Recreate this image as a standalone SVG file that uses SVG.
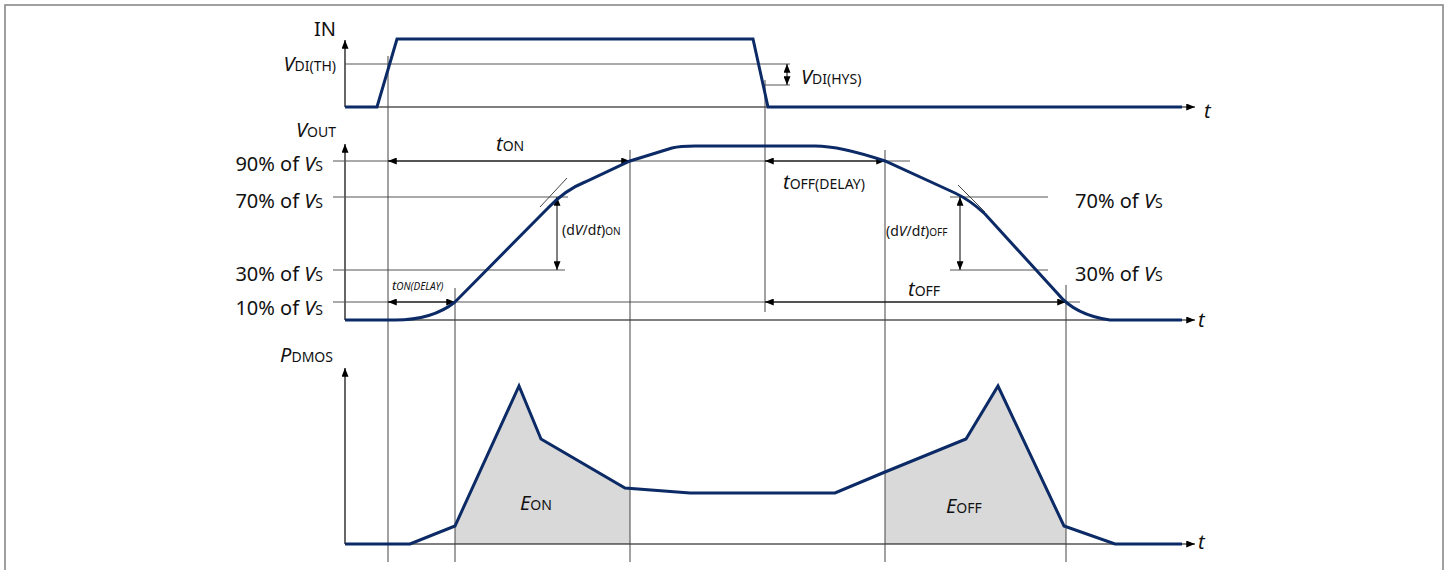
<svg xmlns="http://www.w3.org/2000/svg" width="1448" height="570" viewBox="0 0 1448 570">
<style>
text{font-family:"Noto Sans","Liberation Sans",sans-serif;fill:#111;}
.lbl{font-size:20px;}
.sub{font-size:14px;}
.sm{font-size:14px;}
.smsub{font-size:10px;}
.tiny{font-size:13px;}
.it{font-style:italic;}
.axis{stroke:#000;stroke-width:1.2;fill:none;}
.ref{stroke:#555;stroke-width:1;fill:none;}
.vl{stroke:#444;stroke-width:1;fill:none;}
.wave{stroke:#0b2a66;stroke-width:3;fill:none;stroke-linejoin:miter;}
.fill{fill:#d9d9d9;stroke:none;}
.dim{stroke:#000;stroke-width:1;fill:none;marker-start:url(#ah);marker-end:url(#ah);}
.arr{marker-end:url(#ah);}
</style>
<defs>
<marker id="ah" viewBox="0 0 10 8" refX="10" refY="4" markerWidth="9" markerHeight="7" markerUnits="userSpaceOnUse" orient="auto-start-reverse"><path d="M0,0 L10,4 L0,8 z" fill="#000"/></marker>
</defs>
<rect x="5" y="5" width="1438" height="580" fill="#fff" stroke="#808080" stroke-width="1.5"/>

<g id="fills">
<polygon class="fill" points="455,544 455,526 519,386 541,439 625,488 630,488.5 630,544"/>
<polygon class="fill" points="885,544 885,472 966,439 998,386 1064,526 1066,527 1066,544"/>
</g>

<g id="connectors">
<path class="axis arr" d="M345,107 V40"/>
<path class="axis arr" d="M345,107 H1195"/>
<path class="axis arr" d="M345,320 V144"/>
<path class="axis arr" d="M345,320 H1195"/>
<path class="axis arr" d="M345,544 V368"/>
<path class="axis arr" d="M345,544 H1195"/>
<path class="ref" d="M345,64 H790"/>
<path class="ref" d="M762,85 H790"/>
<path class="ref" d="M333,161 H910"/>
<path class="ref" d="M333,197 H568"/>
<path class="ref" d="M333,270 H565"/>
<path class="ref" d="M333,302 H1080"/>
<path class="ref" d="M950,197 H1048"/>
<path class="ref" d="M950,270 H1048"/>
<path class="vl" d="M388,56 V562"/>
<path class="vl" d="M765,80 V312"/>
<path class="vl" d="M455,288 V562"/>
<path class="vl" d="M630,150 V562"/>
<path class="vl" d="M885,150 V562"/>
<path class="vl" d="M1066,285 V562"/>
<path class="vl" d="M540,207 L567,178"/>
<path class="vl" d="M958,185 L985,212"/>
<path class="dim" d="M787,64 V85"/>
<path class="dim" d="M388,161 H630"/>
<path class="dim" d="M765,161 H885"/>
<path class="dim" d="M557,197 V270"/>
<path class="dim" d="M960,197 V270"/>
<path class="dim" d="M388,302 H455"/>
<path class="dim" d="M765,302 H1066"/>
</g>

<g id="in-wave">
<path class="wave" d="M345,107 L377,107 L397,39 L753,39 L768,107 L1182,107"/>
</g>
<g id="vout-wave">
<path class="wave" d="M345,320 L395,320 C420,320 440,314 455,302 L548,208 Q565,190 585,182 L630,161 L672,148 Q680,146 695,146 L815,146 Q840,146 885,161 L955,193 Q970,200 985,214 L1058,294 Q1075,315 1110,320 L1182,320"/>
</g>
<g id="pdmos-wave">
<path class="wave" d="M345,544 L410,544 L455,526 L519,386 L541,439 L625,488 L690,493 L835,493 L885,472 L966,439 L998,386 L1064,526 L1115,544 L1182,544"/>
</g>

<g id="labels">
<text class="lbl" x="336" y="36" text-anchor="end">IN</text>
<text class="lbl" x="336" y="71" text-anchor="end"><tspan class="it">V</tspan><tspan class="sub">DI(TH)</tspan></text>
<text class="lbl" x="801" y="84"><tspan class="it">V</tspan><tspan class="sub">DI(HYS)</tspan></text>
<text class="lbl it" x="1204" y="118">t</text>
<text class="lbl" x="336" y="137" text-anchor="end"><tspan class="it">V</tspan><tspan class="sub">OUT</tspan></text>
<text class="lbl" x="323" y="171" text-anchor="end">90% of <tspan class="it">V</tspan><tspan class="sub">S</tspan></text>
<text class="lbl" x="323" y="208" text-anchor="end">70% of <tspan class="it">V</tspan><tspan class="sub">S</tspan></text>
<text class="lbl" x="323" y="281" text-anchor="end">30% of <tspan class="it">V</tspan><tspan class="sub">S</tspan></text>
<text class="lbl" x="323" y="315" text-anchor="end">10% of <tspan class="it">V</tspan><tspan class="sub">S</tspan></text>
<text class="lbl" x="1075" y="208">70% of <tspan class="it">V</tspan><tspan class="sub">S</tspan></text>
<text class="lbl" x="1075" y="281">30% of <tspan class="it">V</tspan><tspan class="sub">S</tspan></text>
<text class="lbl it" x="1198" y="327">t</text>
<text class="lbl" x="496" y="151"><tspan class="it">t</tspan><tspan class="sub">ON</tspan></text>
<text class="lbl" x="783" y="189"><tspan class="it">t</tspan><tspan class="sub">OFF(DELAY)</tspan></text>
<text class="lbl" x="908" y="296"><tspan class="it">t</tspan><tspan class="sub">OFF</tspan></text>
<text class="tiny it" x="392" y="290">t<tspan class="smsub">ON(DELAY)</tspan></text>
<text class="sm" x="562" y="235">(d<tspan class="it">V</tspan>/d<tspan class="it">t</tspan>)<tspan class="smsub">ON</tspan></text>
<text class="sm" x="886" y="236">(d<tspan class="it">V</tspan>/d<tspan class="it">t</tspan>)<tspan class="smsub">OFF</tspan></text>
<text class="lbl" x="333" y="362" text-anchor="end"><tspan class="it">P</tspan><tspan class="sub">DMOS</tspan></text>
<text class="lbl" x="520" y="510"><tspan class="it">E</tspan><tspan class="sub">ON</tspan></text>
<text class="lbl" x="946" y="513"><tspan class="it">E</tspan><tspan class="sub">OFF</tspan></text>
<text class="lbl it" x="1198" y="549">t</text>
</g>
</svg>
